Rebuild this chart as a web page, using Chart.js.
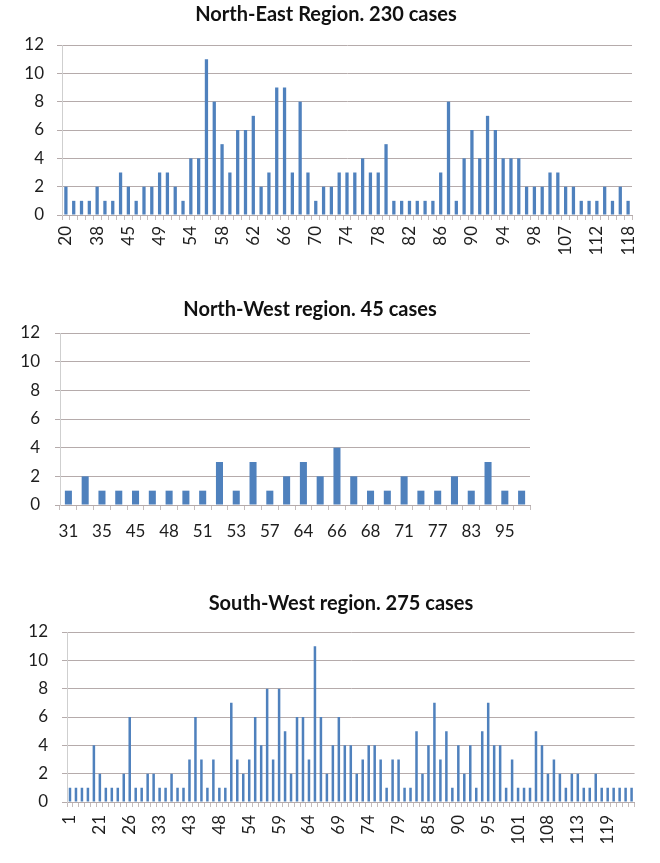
<!DOCTYPE html>
<html>
<head>
<meta charset="utf-8">
<script src="https://cdn.jsdelivr.net/npm/chart.js@4.4.0/dist/chart.umd.min.js"></script>
<style>
  html, body { margin: 0; padding: 0; background: #fff; }
  body { width: 660px; height: 863px; position: relative; overflow: hidden; }
  .box { position: absolute; left: 0; width: 660px; }
</style>
</head>
<body>
<div class="box" style="top:0;height:270px"><canvas id="ne"></canvas></div>
<div class="box" style="top:285px;height:270px"><canvas id="nw"></canvas></div>
<div class="box" style="top:575px;height:288px"><canvas id="sw"></canvas></div>
<script>
// North-East region, 230 cases
const neAges = [20,25,31,35,38,40,42,44,45,46,47,48,49,50,51,53,54,55,56,57,58,59,60,61,62,63,64,65,66,67,68,69,70,71,72,73,74,75,76,77,78,79,80,81,82,83,84,85,86,87,88,89,90,91,92,93,94,95,96,97,98,100,102,105,107,108,109,110,112,114,115,116,118];
const neCases = [2,1,1,1,2,1,1,3,2,1,2,2,3,3,2,1,4,4,11,8,5,3,6,6,7,2,3,9,9,3,8,3,1,2,2,3,3,3,4,3,3,5,1,1,1,1,1,1,3,8,1,4,6,4,7,6,4,4,4,2,2,2,3,3,2,2,1,1,1,2,1,2,1];

// North-West region, 45 cases
const nwAges = [31,33,35,40,45,47,48,50,51,52,53,55,57,60,64,65,66,67,68,70,71,75,77,80,83,90,95,98];
const nwCases = [1,2,1,1,1,1,1,1,1,3,1,3,1,2,3,2,4,2,1,1,2,1,1,2,1,3,1,1];

// South-West region, 275 cases
const swAges = [1,5,10,14,18,21,22,23,24,25,26,27,29,30,32,33,35,37,39,41,43,44,45,46,47,48,49,50,51,52,54,55,56,57,58,59,60,61,62,63,64,65,66,67,68,69,70,71,72,73,74,75,76,77,78,79,80,81,82,84,85,86,87,88,89,90,91,92,93,94,95,96,97,98,99,101,102,104,105,107,108,109,110,111,112,113,114,115,116,117,119,120,121,122,123];
const swCases = [1,1,1,1,4,2,1,1,1,2,6,1,1,2,2,1,1,2,1,1,3,6,3,1,3,1,1,7,3,2,3,6,4,8,3,8,5,2,6,6,3,11,6,2,4,6,4,4,2,3,4,4,3,1,3,3,1,1,5,2,4,7,3,5,1,4,2,4,1,5,7,4,4,1,3,1,1,1,5,4,2,3,2,1,2,2,1,1,2,1,1,1,1,1,1];

const yTicks = { min: 0, max: 12, step: 2 };
const fontFam = 'Lato, "Open Sans", sans-serif';

// draws the heading text at a fixed spot
const regionTitle = {
  id: 'regionTitle',
  afterDraw(chart, args, opts) {
    const ctx = chart.ctx;
    ctx.save();
    ctx.font = 'bold 20px ' + fontFam;
    ctx.fillStyle = '#111';
    ctx.textAlign = 'center';
    ctx.textBaseline = 'middle';
    ctx.fillText(opts.text, opts.x, opts.y);
    ctx.restore();
  }
};

function drawRegion(id, cfg) {
  new Chart(document.getElementById(id), {
    type: 'bar',
    data: {
      labels: cfg.labels,
      datasets: [{
        data: cfg.values,
        backgroundColor: '#4f81bd',
        barPercentage: 0.42,
        categoryPercentage: 1
      }]
    },
    options: {
      responsive: true,
      maintainAspectRatio: false,
      animation: false,
      layout: { padding: { top: cfg.top, right: 660 - cfg.right, bottom: 0, left: 0 } },
      plugins: {
        legend: { display: false },
        tooltip: { enabled: false },
        regionTitle: { text: cfg.title, x: cfg.titleX, y: cfg.titleY }
      },
      scales: {
        x: {
          grid: { display: true, drawOnChartArea: false, drawTicks: true, tickLength: 5, color: '#c4bcbc', offset: true },
          border: { display: true, color: '#b5abab' },
          ticks: {
            autoSkip: false,
            minRotation: cfg.rot,
            maxRotation: cfg.rot,
            padding: cfg.xPad,
            color: '#1e1e1e',
            font: { family: fontFam, size: 17 },
            callback: function (v, i) {
              return i % cfg.every === 0 ? this.getLabelForValue(v) : '';
            }
          },
          afterFit: function (s) { s.height = cfg.axisH; }
        },
        y: {
          min: yTicks.min,
          max: yTicks.max,
          grid: { color: '#b5abab', tickLength: 5 },
          border: { display: true, color: '#cfcfcf' },
          ticks: {
            stepSize: yTicks.step,
            padding: cfg.yPad,
            color: '#1e1e1e',
            font: { family: fontFam, size: 17 }
          },
          afterFit: function (s) { s.width = cfg.left; }
        }
      }
    },
    plugins: [regionTitle]
  });
}

drawRegion('ne', {
  title: 'North-East Region. 230 cases', titleX: 326, titleY: 15,
  labels: neAges, values: neCases,
  left: 62, right: 632, top: 45, axisH: 55,
  rot: 90, every: 4, xPad: 6, yPad: 13
});

drawRegion('nw', {
  title: 'North-West region. 45 cases', titleX: 310, titleY: 25,
  labels: nwAges, values: nwCases,
  left: 60, right: 530, top: 48, axisH: 50,
  rot: 0, every: 2, xPad: 11, yPad: 15
});

drawRegion('sw', {
  title: 'South-West region. 275 cases', titleX: 341, titleY: 29,
  labels: swAges, values: swCases,
  left: 67, right: 657, top: 57, axisH: 61,
  rot: 90, every: 5, xPad: 8, yPad: 14
});
</script>
</body>
</html>
